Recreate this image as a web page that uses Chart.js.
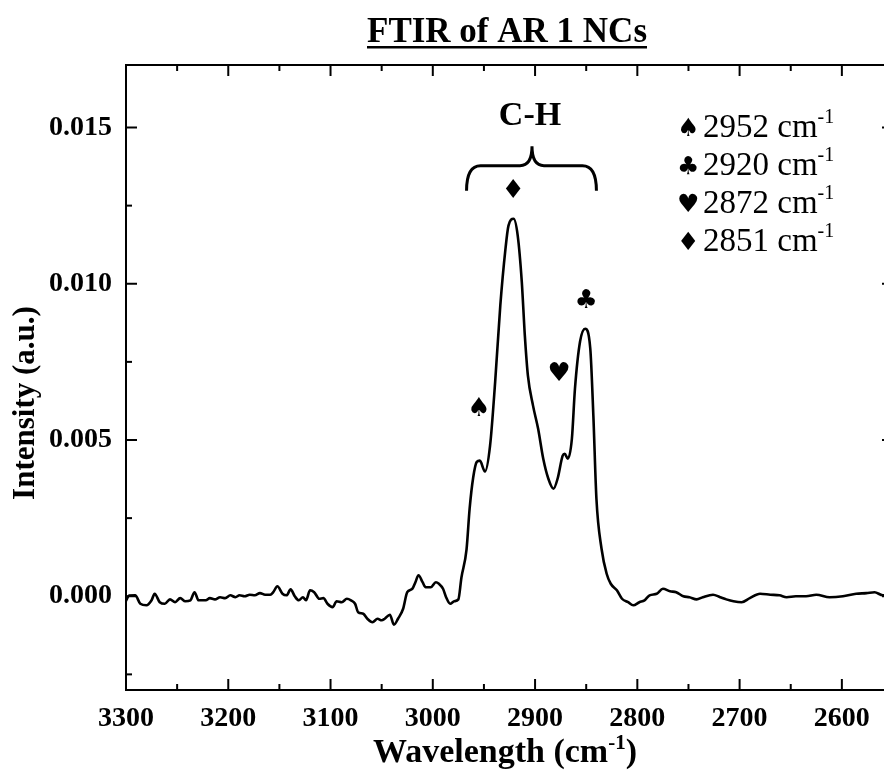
<!DOCTYPE html>
<html><head><meta charset="utf-8">
<script src="https://cdn.jsdelivr.net/npm/chart.js@4.4.0/dist/chart.umd.min.js"></script>
<style>html,body{margin:0;padding:0;background:#fff;overflow:hidden;}#wrap{position:relative;width:900px;height:778px;}</style>
</head><body><div id="wrap"><canvas id="c" width="900" height="778"></canvas></div>
<script>
// ---- data ----
const wavenumbers = [3300,3297,3291,3286,3280,3275,3272,3267,3262,3257,3252,3247,3242,3237,3233,3229,3222,3218,3213,3208,3203,3198,3193,3189,3184,3179,3174,3169,3164,3159,3156,3152,3147,3143,3139,3135,3131,3127,3124,3120,3116,3111,3107,3103,3098,3094,3089,3084,3080,3076,3073,3068,3064,3059,3054,3050,3047,3042,3038,3034,3029,3025,3020,3017,3014,3010,3007,3002,2997,2994,2990,2987,2983,2979,2975,2972,2967,2964,2960.5,2957,2954,2949,2944,2939,2934,2929,2926,2921,2917,2913,2910,2907,2902,2897,2892,2887,2882,2878,2873,2871,2868,2864,2861,2856,2851,2846,2843,2840,2835,2830,2826,2820,2815,2809,2804,2798,2793,2788,2781,2775,2768,2762,2755,2749,2742,2736,2726,2719,2713,2706,2698,2690,2680,2670,2661,2654,2645,2635,2625,2612,2599,2586,2576,2568,2560,2555];
const intensity = [-0.00015,0.00002,0.00003,-0.00024,-0.00029,-0.00013,0.00008,-0.00019,-0.00024,-0.00010,-0.00019,-0.00006,-0.00016,-0.00013,0.00013,-0.00013,-0.00013,-0.00006,-0.00010,-0.00003,-0.00006,0.00003,-0.00003,0.00003,0.00000,0.00005,0.00003,0.00010,0.00005,0.00005,0.00013,0.00032,0.00008,0.00003,0.00022,0.00000,-0.00013,-0.00003,-0.00013,0.00019,0.00013,-0.00008,-0.00006,-0.00024,-0.00035,-0.00016,-0.00019,-0.00008,-0.00013,-0.00024,-0.00051,-0.00056,-0.00072,-0.00083,-0.00072,-0.00077,-0.00072,-0.00059,-0.00091,-0.00072,-0.00040,0.00013,0.00024,0.00045,0.00067,0.00045,0.00029,0.00029,0.00045,0.00040,0.00024,-0.00003,-0.00024,-0.00016,-0.00010,0.00060,0.00150,0.00280,0.00380,0.00430,0.00434,0.00399,0.00482,0.00687,0.00930,0.01110,0.01186,0.01208,0.01155,0.01007,0.00834,0.00706,0.00610,0.00536,0.00440,0.00376,0.00344,0.00376,0.00450,0.00456,0.00440,0.00504,0.00664,0.00815,0.00856,0.00792,0.00578,0.00312,0.00152,0.00072,0.00040,0.00019,-0.00008,-0.00019,-0.00029,-0.00019,-0.00013,0.00003,0.00008,0.00024,0.00016,0.00013,0.00000,-0.00003,-0.00010,-0.00003,0.00005,-0.00003,-0.00010,-0.00016,-0.00019,-0.00006,0.00008,0.00005,0.00003,-0.00003,0.00000,0.00000,0.00005,-0.00003,0.00000,0.00008,0.00010,0.00013,0.00003,0.00005];
const xTicks = [3300,3200,3100,3000,2900,2800,2700,2600];
const xMinorTicks = [3250,3150,3050,2950,2850,2750,2650,2550];
const yTicks = [0.000,0.005,0.010,0.015];
const yMinorTicks = [-0.0025,0.0025,0.0075,0.0125];
const peakLabels = [
  {sym:'\u2660', x:2955, y:0.0060},
  {sym:'\u2666', x:2921.5, y:0.01295},
  {sym:'\u2665', x:2876.5, y:0.00712},
  {sym:'\u2663', x:2850, y:0.00943}
];
const legendItems = [
  {sym:'\u2660', text:'2952 cm'},
  {sym:'\u2663', text:'2920 cm'},
  {sym:'\u2665', text:'2872 cm'},
  {sym:'\u2666', text:'2851 cm'}
];
const bracket = {from:2967, to:2840, mid:2903, yEnd:0.01298, yFlat:0.01378, yTip:0.01440};

const SERIF = '"Liberation Serif","Times New Roman",serif';
const SYM = '"DejaVu Sans",sans-serif';

function drawRich(ctx, parts, x, y, align){
  let w = 0;
  parts.forEach(p=>{ctx.font=p.font; p.w=ctx.measureText(p.t).width; w+=p.w;});
  let sx = align==='center' ? x - w/2 : (align==='right' ? x - w : x);
  parts.forEach(p=>{ctx.font=p.font; ctx.fillText(p.t, sx, y + (p.dy||0)); sx+=p.w;});
  return w;
}

const decor = {
  id:'decor',
  afterDraw(chart){
    const ctx = chart.ctx, ca = chart.chartArea, xs = chart.scales.x, ys = chart.scales.y;
    ctx.save();
    ctx.strokeStyle = '#000'; ctx.fillStyle = '#000'; ctx.lineWidth = 2;
    ctx.strokeRect(ca.left, ca.top, ca.right-ca.left, ca.bottom-ca.top);
    const seg=(a,b,c,d)=>{ctx.beginPath();ctx.moveTo(a,b);ctx.lineTo(c,d);ctx.stroke();};
    xTicks.forEach(v=>{const p=xs.getPixelForValue(v); seg(p,ca.bottom,p,ca.bottom-11); seg(p,ca.top,p,ca.top+11);});
    xMinorTicks.forEach(v=>{const p=xs.getPixelForValue(v); seg(p,ca.bottom,p,ca.bottom-6); seg(p,ca.top,p,ca.top+6);});
    yTicks.forEach(v=>{const p=ys.getPixelForValue(v); seg(ca.left,p,ca.left+11,p); seg(ca.right,p,ca.right-11,p);});
    yMinorTicks.forEach(v=>{const p=ys.getPixelForValue(v); seg(ca.left,p,ca.left+6,p); seg(ca.right,p,ca.right-6,p);});

    // title
    ctx.textBaseline = 'alphabetic';
    const tw = drawRich(ctx, [{t:'FTIR of AR 1 NCs', font:'bold 35px '+SERIF}], 507, 42, 'center');
    ctx.fillRect(507 - tw/2, 46, tw, 2.5);

    // x title
    drawRich(ctx, [{t:'Wavelength (cm', font:'bold 34px '+SERIF},{t:'-1', font:'bold 21px '+SERIF, dy:-13},{t:')', font:'bold 34px '+SERIF}], 505, 762, 'center');
    // y title
    ctx.save(); ctx.translate(34, 403); ctx.rotate(-Math.PI/2);
    drawRich(ctx, [{t:'Intensity (a.u.)', font:'bold 31px '+SERIF}], 0, 0, 'center');
    ctx.restore();

    // C-H
    drawRich(ctx, [{t:'C-H', font:'bold 34px '+SERIF}], 530, 125, 'center');

    // bracket
    const bx1 = xs.getPixelForValue(bracket.from), bx2 = xs.getPixelForValue(bracket.to), bm = xs.getPixelForValue(bracket.mid);
    const yE = ys.getPixelForValue(bracket.yEnd), yF = ys.getPixelForValue(bracket.yFlat), yT = ys.getPixelForValue(bracket.yTip);
    ctx.lineWidth = 3;
    ctx.beginPath();
    ctx.moveTo(bx1, yE);
    ctx.quadraticCurveTo(bx1, yF, bx1+14, yF);
    ctx.lineTo(bm-12, yF);
    ctx.quadraticCurveTo(bm, yF, bm, yT);
    ctx.quadraticCurveTo(bm, yF, bm+12, yF);
    ctx.lineTo(bx2-14, yF);
    ctx.quadraticCurveTo(bx2, yF, bx2, yE);
    ctx.stroke();

    // peak symbols
    ctx.textAlign = 'center'; ctx.textBaseline = 'middle';
    ctx.font = '26px '+SYM;
    peakLabels.forEach(p=>{ctx.fillText(p.sym, xs.getPixelForValue(p.x), ys.getPixelForValue(p.y));});
    ctx.textAlign = 'left'; ctx.textBaseline = 'alphabetic';

    // legend
    legendItems.forEach((it,i)=>{
      const y = 137 + i*38;
      ctx.font = '25px '+SYM; ctx.fillText(it.sym, 677, y-1);
      drawRich(ctx, [{t:it.text, font:'33px '+SERIF},{t:'-1', font:'20px '+SERIF, dy:-14}], 703, y, 'left');
    });
    ctx.restore();
  }
};

new Chart(document.getElementById('c'), {
  type:'scatter',
  data:{datasets:[{data: wavenumbers.map((x,i)=>({x:x, y:intensity[i]})), showLine:true, borderColor:'#000', borderWidth:2.6, pointRadius:0, cubicInterpolationMode:'monotone', fill:false}]},
  options:{
    responsive:false, animation:false, devicePixelRatio:1,
    layout:{padding:{left:0, top:65, right:7, bottom:0}},
    plugins:{legend:{display:false}, tooltip:{enabled:false}},
    scales:{
      x:{type:'linear', reverse:true, min:2550, max:3300,
        afterBuildTicks:(s)=>{s.ticks = xTicks.map(v=>({value:v}));},
        afterFit:(s)=>{s.height = 88;},
        grid:{display:false, drawTicks:false}, border:{display:false},
        ticks:{color:'#000', font:{family:SERIF, size:28, weight:'bold'}, padding:12, maxRotation:0, autoSkip:false, callback:(v)=>String(v)}
      },
      y:{type:'linear', min:-0.003, max:0.017,
        afterBuildTicks:(s)=>{s.ticks = yTicks.map(v=>({value:v}));},
        afterFit:(s)=>{s.width = 126;},
        grid:{display:false, drawTicks:false}, border:{display:false},
        ticks:{color:'#000', font:{family:SERIF, size:28, weight:'bold'}, padding:14, callback:(v)=>Number(v).toFixed(3)}
      }
    }
  },
  plugins:[decor]
});
</script></body></html>
